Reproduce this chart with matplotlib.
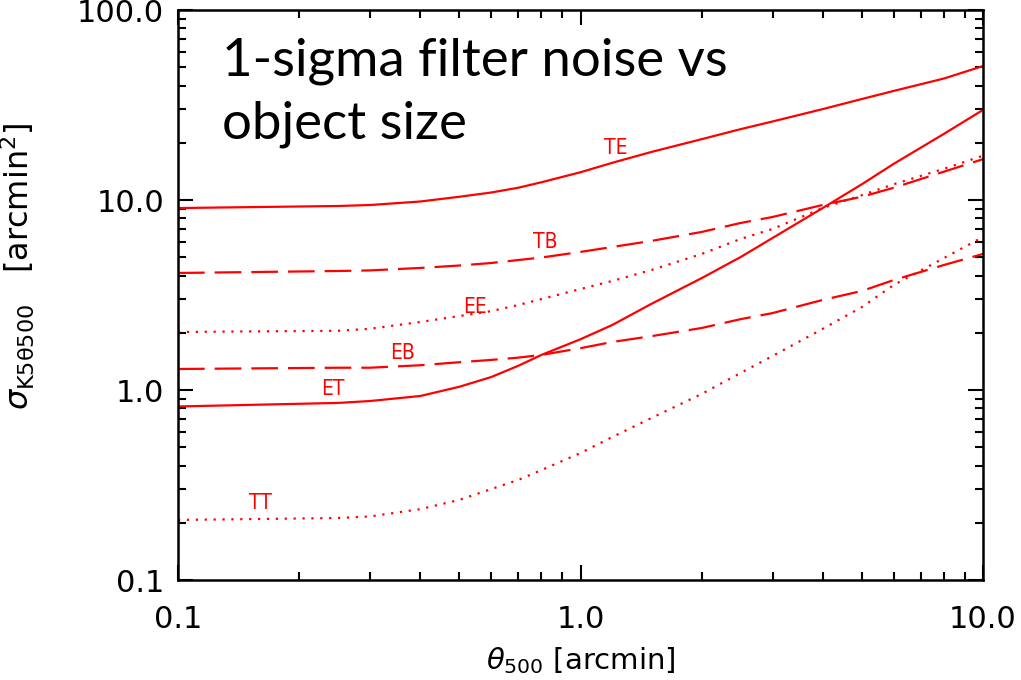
import numpy as np
import matplotlib
matplotlib.use('Agg')
from matplotlib import pyplot as plt
from matplotlib.ticker import LogLocator, FixedLocator, FixedFormatter, NullFormatter

# filter scale theta_500 [arcmin]
theta = [0.1, 0.25, 0.3, 0.4, 0.5, 0.6, 0.7, 0.8, 1.0, 1.2, 1.5, 2.0, 2.5, 3.0, 4.0, 5.0, 6.0, 8.0, 10.0]

# 1-sigma noise for each filter combination [arcmin^2]
te = [9.07, 9.30, 9.41, 9.82, 10.4, 10.95, 11.6, 12.4, 14.0, 15.7, 17.9, 20.9, 23.6, 25.9, 30.1, 34.0, 37.5, 43.6, 50.7]
tb = [4.13, 4.23, 4.26, 4.39, 4.52, 4.66, 4.83, 4.98, 5.33, 5.66, 6.09, 6.79, 7.57, 8.14, 9.42, 10.4, 11.6, 14.1, 16.4]
ee = [2.02, 2.05, 2.10, 2.28, 2.45, 2.60, 2.80, 3.01, 3.40, 3.75, 4.28, 5.20, 6.24, 7.04, 9.08, 10.6, 12.1, 14.6, 17.1]
eb = [1.29, 1.31, 1.31, 1.35, 1.40, 1.44, 1.48, 1.53, 1.66, 1.79, 1.92, 2.12, 2.36, 2.54, 2.98, 3.32, 3.79, 4.55, 5.20]
et = [0.819, 0.855, 0.875, 0.930, 1.04, 1.17, 1.34, 1.53, 1.85, 2.20, 2.84, 3.88, 5.01, 6.31, 9.08, 12.1, 15.5, 22.3, 29.8]
tt = [0.207, 0.212, 0.216, 0.236, 0.264, 0.301, 0.336, 0.379, 0.466, 0.566, 0.712, 0.953, 1.23, 1.51, 2.10, 2.73, 3.57, 4.95, 6.39]

curve_names = ['TE', 'TB', 'EE', 'EB', 'ET', 'TT']
curve_vals = [te, tb, ee, eb, et, tt]
curve_style = ['solid', 'dash', 'dot', 'dash', 'solid', 'dot']
# where the little name tags go
tag_x = [1.22, 0.816, 0.547, 0.362, 0.243, 0.16]
tag_y = [18.8, 6.01, 2.73, 1.57, 1.01, 0.254]

x_ticks = [0.1, 1.0, 10.0]
x_ticklabels = ['0.1', '1.0', '10.0']
y_ticks = [0.1, 1.0, 10.0, 100.0]
y_ticklabels = ['0.1', '1.0', '10.0', '100.0']

red = '#ff0000'
lw = 1.6

fig = plt.figure(figsize=(10.21, 6.80), dpi=100)
ax = fig.add_axes([178/1021, 1 - 580/680, (983-178)/1021, (580-10)/680])

for name, vals, st in zip(curve_names, curve_vals, curve_style):
	line, = ax.plot(theta, vals, color=red, lw=lw)
	if st == 'dash':
		line.set_dashes((12, 4.5))
	elif st == 'dot':
		line.set_dashes((1.0, 3.0))

for name, tx, ty in zip(curve_names, tag_x, tag_y):
	ax.text(tx, ty, name, color=red, fontsize=15, ha='center', va='center',
			fontstretch='condensed')

ax.set_xscale('log')
ax.set_yscale('log')
ax.set_xlim(0.1, 10.0)
ax.set_ylim(0.1, 100.0)

ax.xaxis.set_major_locator(FixedLocator(x_ticks))
ax.xaxis.set_major_formatter(FixedFormatter(x_ticklabels))
ax.yaxis.set_major_locator(FixedLocator(y_ticks))
ax.yaxis.set_major_formatter(FixedFormatter(y_ticklabels))
ax.xaxis.set_minor_locator(LogLocator(base=10, subs=np.arange(2, 10)))
ax.yaxis.set_minor_locator(LogLocator(base=10, subs=np.arange(2, 10)))
ax.xaxis.set_minor_formatter(NullFormatter())
ax.yaxis.set_minor_formatter(NullFormatter())

ax.tick_params(which='both', direction='in', top=True, right=True, width=1.5, colors='black')
ax.tick_params(which='major', length=11)
ax.tick_params(which='minor', length=5.5)
ax.tick_params(axis='x', which='major', labelsize=22, pad=18)
ax.tick_params(axis='y', which='major', labelsize=22, pad=10)
for sp in ax.spines.values():
	sp.set_linewidth(1.8)

ax.set_xlabel(r'$\theta_{500}$ [arcmin]', fontsize=21)
ax.xaxis.set_label_coords(0.5, -0.114)
ax.set_ylabel(r'$\sigma_{\mathrm{K5\theta500}}$   [arcmin$^2$]', fontsize=23)
ax.yaxis.set_label_coords(-0.175, 0.55)

ax.text(0.055, 0.952, '1-sigma filter noise vs\nobject size', transform=ax.transAxes,
		fontsize=38, family='Lato', va='top', ha='left', linespacing=1.4)

plt.savefig('out.png', dpi=100)
